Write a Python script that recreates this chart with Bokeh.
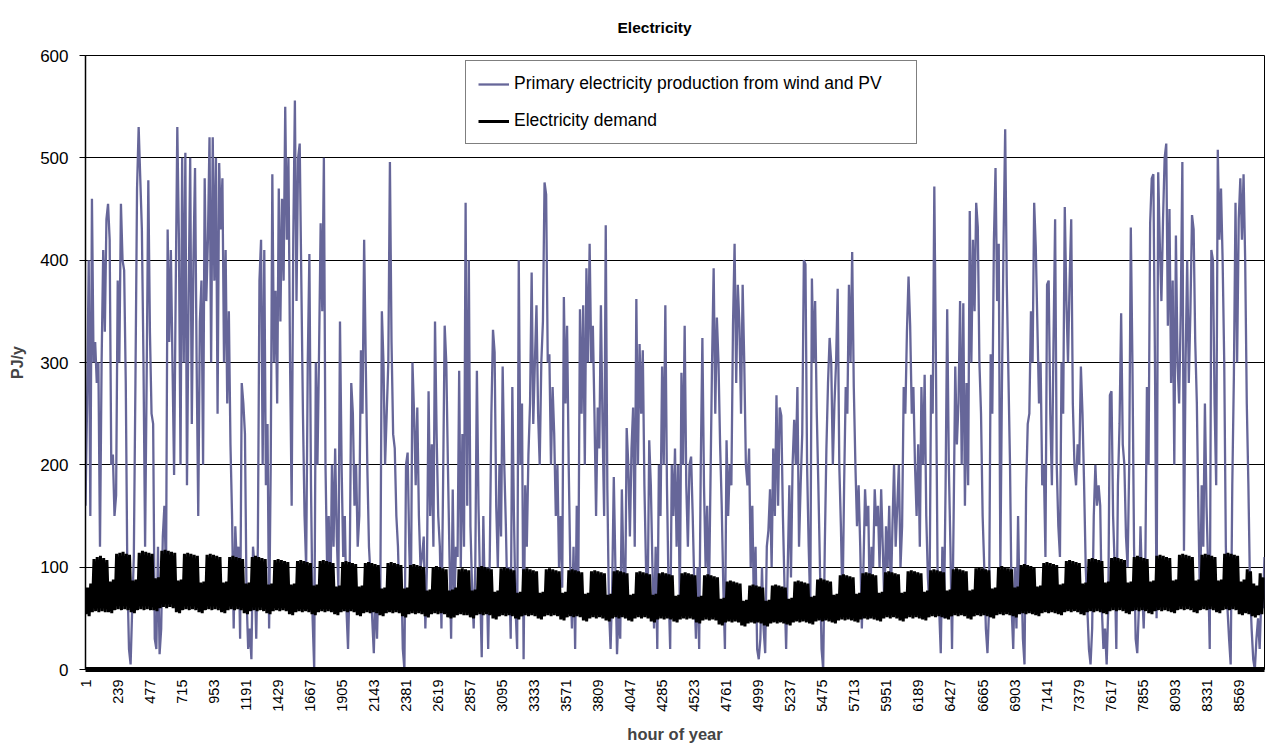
import numpy as np
from bokeh.plotting import figure
from bokeh.models import FixedTicker, Legend, LegendItem, Range1d
from bokeh.embed import file_html
from bokeh.resources import INLINE

FONT = "Liberation Sans"

x_tick_labels = [1, 239, 477, 715, 953, 1191, 1429, 1667, 1905, 2143, 2381, 2619,
                 2857, 3095, 3333, 3571, 3809, 4047, 4285, 4523, 4761, 4999, 5237,
                 5475, 5713, 5951, 6189, 6427, 6665, 6903, 7141, 7379, 7617, 7855,
                 8093, 8331, 8569]
y_tick_labels = [0, 100, 200, 300, 400, 500, 600]

# Primary electricity production from wind and PV (PJ/y), read at ~12 h steps
wind_jan_feb = [
    160, 260, 400, 150, 460, 300, 320, 280, 300, 120,
    300, 410, 330, 440, 455, 420, 200, 210, 150, 170,
    380, 300, 455, 400, 390, 280, 90, 20, 5, 60,
    110, 280, 470, 530, 480, 430, 300, 120, 290, 478,
    330, 250, 240, 30, 20, 120, 15, 40, 130, 160,
    90, 430, 320, 410, 300, 190, 370, 530, 420, 200,
    500, 300, 505, 180, 360, 500, 240, 400, 490, 300,
    150, 340, 380, 200, 480, 360, 420, 520, 300, 520,
    380, 500, 250, 495, 430, 480, 300, 410, 260, 350,
    220, 150, 40, 140, 100, 120, 30, 280, 260, 230,
    70, 20, 40, 10, 120]
wind_feb_apr = [
    100, 30, 120, 380, 420, 200, 410, 180, 240, 40,
    200, 484, 300, 370, 260, 470, 340, 460, 380, 550,
    420, 500, 300, 160, 420, 556, 360, 500, 514, 380,
    250, 150, 100, 300, 406, 180, 50, 0, 300, 200,
    310, 436, 350, 500, 200, 100, 150, 60, 200, 120,
    216, 130, 80, 340, 200, 110, 150, 60, 20, 90,
    280, 250, 160, 200, 120, 150, 312, 250, 420, 300,
    196, 120, 90, 50, 16, 80, 30, 100, 60, 350,
    300, 200, 250, 300, 496, 320, 230, 216, 150, 120,
    60, 100, 20, 0, 200, 212, 120, 60, 300, 250,
    180, 256, 150, 100, 110]
wind_apr_jun = [
    130, 40, 100, 272, 150, 220, 120, 340, 230, 150,
    120, 40, 180, 336, 300, 200, 110, 30, 176, 60,
    120, 110, 292, 100, 230, 120, 456, 160, 400, 140,
    80, 40, 100, 292, 160, 80, 12, 150, 60, 100,
    20, 110, 250, 332, 310, 160, 100, 200, 130, 296,
    200, 140, 60, 100, 30, 276, 150, 60, 20, 400,
    200, 260, 10, 180, 120, 210, 260, 388, 240, 300,
    356, 250, 200, 300, 340, 476, 464, 300, 308, 200,
    276, 230, 150, 200, 100, 150, 80, 364, 260, 336,
    200, 100, 40, 120, 20, 160, 90, 352, 250, 356,
    200, 392, 300, 416, 300]
wind_jun_jul = [
    336, 250, 150, 256, 216, 356, 240, 150, 434, 176,
    60, 20, 80, 188, 100, 15, 60, 30, 176, 100,
    50, 236, 200, 130, 216, 256, 120, 362, 200, 318,
    250, 312, 180, 100, 60, 224, 180, 100, 40, 120,
    20, 200, 150, 296, 200, 356, 180, 80, 20, 200,
    150, 216, 120, 200, 60, 290, 200, 336, 180, 120,
    200, 208, 150, 80, 30, 100, 20, 200, 324, 180,
    100, 160, 60, 180, 300, 392, 250, 344, 300, 220,
    160, 80, 20, 224, 150, 200, 180, 336, 416, 280,
    376, 336, 250, 376, 300, 200, 180, 216, 100, 160,
    60, 120, 20, 10, 30]
wind_aug_sep = [
    100, 40, 16, 120, 136, 176, 100, 216, 150, 268,
    160, 256, 248, 150, 80, 20, 100, 180, 90, 200,
    244, 200, 276, 120, 180, 230, 400, 396, 200, 120,
    60, 382, 300, 360, 252, 180, 100, 20, 0, 120,
    216, 280, 324, 300, 200, 260, 300, 372, 200, 140,
    60, 180, 276, 250, 376, 300, 408, 276, 200, 140,
    180, 120, 40, 100, 176, 140, 160, 50, 120, 100,
    176, 140, 160, 100, 176, 120, 60, 140, 100, 160,
    70, 140, 200, 120, 160, 200, 100, 140, 276, 250,
    330, 384, 336, 250, 276, 200, 150, 220, 120, 276,
    200, 288, 150, 90, 60]
wind_sep_nov = [
    288, 250, 472, 300, 100, 60, 16, 120, 50, 180,
    352, 200, 120, 20, 150, 296, 220, 260, 360, 200,
    358, 160, 280, 180, 448, 300, 420, 350, 456, 432,
    300, 250, 150, 100, 40, 16, 60, 308, 250, 420,
    490, 360, 416, 100, 280, 420, 528, 376, 288, 200,
    60, 20, 100, 40, 150, 60, 100, 30, 5, 176,
    240, 250, 350, 300, 456, 412, 336, 260, 300, 180,
    200, 110, 376, 380, 250, 180, 320, 440, 200, 140,
    110, 300, 250, 452, 360, 300, 380, 440, 260, 200,
    180, 220, 200, 296, 250, 180, 100, 60, 20, 5,
    40, 150, 200, 160, 180]
wind_nov_dec = [
    160, 60, 20, 40, 5, 60, 268, 272, 150, 100,
    20, 180, 240, 348, 220, 200, 130, 100, 200, 432,
    300, 120, 30, 16, 60, 140, 80, 40, 100, 276,
    200, 436, 480, 484, 300, 50, 486, 416, 360, 440,
    500, 514, 336, 450, 280, 380, 200, 424, 300, 260,
    350, 496, 116, 300, 400, 280, 350, 444, 430, 320,
    260, 150, 60, 180, 120, 260, 160, 100, 20, 410,
    400, 260, 180, 508, 420, 470, 400, 300, 120, 60,
    30, 5, 180, 288, 456, 300, 440, 480, 420, 484,
    400, 260, 180, 80, 40, 10, 0, 30, 50, 20,
    70, 60, 110]

# Electricity demand (PJ/y): daily peak and night low, one row per week
demand_day_peak = [
    80, 84, 108, 110, 111, 109, 107,
    86, 88, 113, 114, 115, 113, 112,
    87, 88, 114, 116, 115, 114, 113,
    89, 90, 116, 117, 116, 115, 114,
    87, 88, 113, 114, 113, 112, 111,
    85, 86, 112, 113, 112, 111, 110,
    85, 86, 110, 111, 110, 109, 108,
    84, 85, 110, 111, 110, 109, 108,
    83, 84, 107, 108, 107, 106, 105,
    83, 84, 106, 107, 106, 105, 104,
    82, 83, 106, 107, 106, 105, 104,
    81, 82, 105, 106, 105, 104, 103,
    81, 82, 104, 105, 104, 103, 102,
    79, 80, 104, 105, 104, 103, 102,
    79, 80, 102, 103, 102, 101, 100,
    77, 78, 100, 101, 100, 99, 98,
    77, 78, 80, 98, 99, 98, 97,
    77, 78, 100, 101, 100, 99, 98,
    76, 77, 99, 100, 99, 98, 97,
    75, 76, 98, 99, 98, 97, 96,
    75, 76, 98, 99, 98, 97, 96,
    75, 76, 97, 98, 97, 96, 95,
    74, 75, 96, 97, 96, 95, 94,
    73, 74, 96, 97, 96, 95, 94,
    73, 74, 95, 96, 95, 94, 93,
    73, 74, 94, 95, 94, 93, 92,
    72, 73, 94, 95, 94, 93, 92,
    71, 72, 92, 93, 92, 91, 90,
    69, 70, 86, 87, 86, 85, 84,
    67, 68, 82, 83, 82, 81, 80,
    67, 68, 82, 83, 82, 81, 80,
    69, 70, 86, 87, 86, 85, 84,
    71, 72, 88, 89, 88, 87, 86,
    73, 74, 92, 93, 92, 91, 90,
    74, 75, 94, 95, 94, 93, 92,
    75, 76, 95, 96, 95, 94, 93,
    75, 76, 96, 97, 96, 95, 94,
    76, 77, 97, 98, 97, 96, 95,
    77, 78, 98, 99, 98, 97, 96,
    77, 78, 99, 100, 99, 98, 97,
    79, 80, 100, 101, 100, 99, 98,
    80, 81, 102, 103, 102, 101, 100,
    81, 82, 104, 105, 104, 103, 102,
    83, 84, 106, 107, 106, 105, 104,
    84, 85, 108, 109, 108, 107, 106,
    85, 86, 109, 110, 109, 108, 107,
    85, 86, 110, 111, 110, 109, 108,
    86, 87, 111, 112, 111, 110, 109,
    87, 88, 112, 113, 112, 111, 110,
    87, 88, 112, 113, 112, 111, 110,
    87, 88, 113, 114, 113, 112, 111,
    86, 88, 98, 96, 84, 82, 94,
    90]
demand_night_low = [
    54, 52, 56, 57, 56, 57, 56,
    56, 55, 58, 59, 58, 59, 58,
    56, 55, 58, 59, 58, 59, 58,
    58, 57, 60, 61, 60, 61, 60,
    56, 55, 58, 59, 58, 59, 58,
    56, 55, 58, 59, 58, 59, 58,
    56, 55, 58, 59, 58, 59, 58,
    55, 54, 57, 58, 57, 58, 57,
    55, 54, 57, 58, 57, 58, 57,
    54, 53, 56, 57, 56, 57, 56,
    54, 53, 56, 57, 56, 57, 56,
    54, 53, 56, 57, 56, 57, 56,
    53, 52, 55, 56, 55, 56, 55,
    53, 52, 55, 56, 55, 56, 55,
    52, 51, 54, 55, 54, 55, 54,
    52, 51, 54, 55, 54, 55, 54,
    51, 50, 51, 53, 54, 53, 53,
    51, 50, 53, 54, 53, 54, 53,
    50, 49, 52, 53, 52, 53, 52,
    50, 49, 52, 53, 52, 53, 52,
    50, 49, 52, 53, 52, 53, 52,
    49, 48, 51, 52, 51, 52, 51,
    48, 47, 50, 51, 50, 51, 50,
    48, 47, 50, 51, 50, 51, 50,
    48, 47, 50, 51, 50, 51, 50,
    47, 46, 49, 50, 49, 50, 49,
    47, 46, 49, 50, 49, 50, 49,
    46, 45, 48, 49, 48, 49, 48,
    44, 43, 46, 47, 46, 47, 46,
    43, 42, 45, 46, 45, 46, 45,
    43, 42, 45, 46, 45, 46, 45,
    44, 43, 46, 47, 46, 47, 46,
    45, 44, 47, 48, 47, 48, 47,
    46, 45, 48, 49, 48, 49, 48,
    47, 46, 49, 50, 49, 50, 49,
    48, 47, 50, 51, 50, 51, 50,
    48, 47, 50, 51, 50, 51, 50,
    49, 48, 51, 52, 51, 52, 51,
    50, 49, 52, 53, 52, 53, 52,
    50, 49, 52, 53, 52, 53, 52,
    51, 50, 53, 54, 53, 54, 53,
    52, 51, 54, 55, 54, 55, 54,
    53, 52, 55, 56, 55, 56, 55,
    54, 53, 56, 57, 56, 57, 56,
    54, 53, 56, 57, 56, 57, 56,
    55, 54, 57, 58, 57, 58, 57,
    55, 54, 57, 58, 57, 58, 57,
    55, 54, 57, 58, 57, 58, 57,
    56, 55, 58, 59, 58, 59, 58,
    56, 55, 58, 59, 58, 59, 58,
    56, 55, 58, 59, 58, 59, 58,
    54, 53, 55, 54, 52, 51, 53,
    54]

wind = (wind_jan_feb + wind_feb_apr + wind_apr_jun + wind_jun_jul
        + wind_aug_sep + wind_sep_nov + wind_nov_dec)
wind_hours = np.linspace(1, 8760, len(wind))

demand = []
for lo, hi in zip(demand_night_low, demand_day_peak):
    demand += [lo, hi]
demand_hours = np.arange(len(demand)) * 12 + 4

p = figure(width=1265, height=745, x_range=Range1d(1, 8760), y_range=Range1d(0, 600),
           output_backend="svg", toolbar_location=None,
           min_border_left=85, min_border_right=1, min_border_top=54, min_border_bottom=75)
p.background_fill_color = "white"
p.border_fill_color = "white"
p.outline_line_color = "black"
p.outline_line_width = 1

r_wind = p.line(wind_hours, wind, line_color="#666699", line_width=2.3)
r_dem = p.line(demand_hours, demand, line_color="black", line_width=3)

# title
p.title.text = "Electricity"
p.title.text_font = FONT
p.title.text_font_size = "15.5px"
p.title.text_font_style = "bold"
p.title.text_color = "black"
p.title.align = "left"
p.title.offset = 532
p.title.vertical_align = "top"
p.title.standoff = 36

# y axis
p.yaxis.ticker = FixedTicker(ticks=y_tick_labels)
p.yaxis.major_label_text_font = FONT
p.yaxis.major_label_text_font_size = "17px"
p.yaxis.major_label_text_color = "black"
p.yaxis.major_tick_out = 6
p.yaxis.major_tick_in = 0
p.yaxis.minor_tick_out = 0
p.yaxis.minor_tick_in = 0
p.yaxis.axis_line_color = "black"
p.yaxis.axis_line_width = 1.5
p.yaxis.major_tick_line_color = "black"
p.yaxis.major_label_standoff = 11
p.yaxis.axis_label = "PJ/y"
p.yaxis.axis_label_text_font = FONT
p.yaxis.axis_label_text_font_size = "16px"
p.yaxis.axis_label_text_font_style = "bold"
p.yaxis.axis_label_standoff = 11

# x axis
p.xaxis.ticker = FixedTicker(ticks=x_tick_labels)
p.xaxis.major_label_orientation = np.pi / 2
p.xaxis.major_label_text_font = FONT
p.xaxis.major_label_text_font_size = "14.5px"
p.xaxis.major_label_text_color = "black"
p.xaxis.major_tick_out = 0
p.xaxis.major_tick_in = 0
p.xaxis.minor_tick_out = 0
p.xaxis.minor_tick_in = 0
p.xaxis.axis_line_color = "black"
p.xaxis.axis_line_width = 5
p.xaxis.major_label_standoff = 10
p.xaxis.axis_label = "hour of year"
p.xaxis.axis_label_text_font = FONT
p.xaxis.axis_label_text_font_size = "16.5px"
p.xaxis.axis_label_text_font_style = "bold"
p.xaxis.axis_label_standoff = 10

# grid
p.xgrid.visible = False
p.ygrid.ticker = FixedTicker(ticks=y_tick_labels)
p.ygrid.grid_line_color = "black"
p.ygrid.grid_line_width = 1

legend = Legend(items=[
    LegendItem(label="Primary electricity production from wind and PV", renderers=[r_wind]),
    LegendItem(label="Electricity demand", renderers=[r_dem]),
], location=(380, 525))
legend.padding = 12
legend.spacing = 16
legend.margin = 0
legend.glyph_width = 31
legend.glyph_height = 20
legend.label_height = 20
legend.label_standoff = 5
legend.label_width = 390
legend.label_text_font = FONT
legend.label_text_font_size = "17.5px"
legend.label_text_color = "black"
legend.border_line_color = "black"
legend.border_line_width = 1
legend.background_fill_color = "white"
legend.background_fill_alpha = 1
p.add_layout(legend)

open("out.html", "w").write(file_html(p, INLINE))
